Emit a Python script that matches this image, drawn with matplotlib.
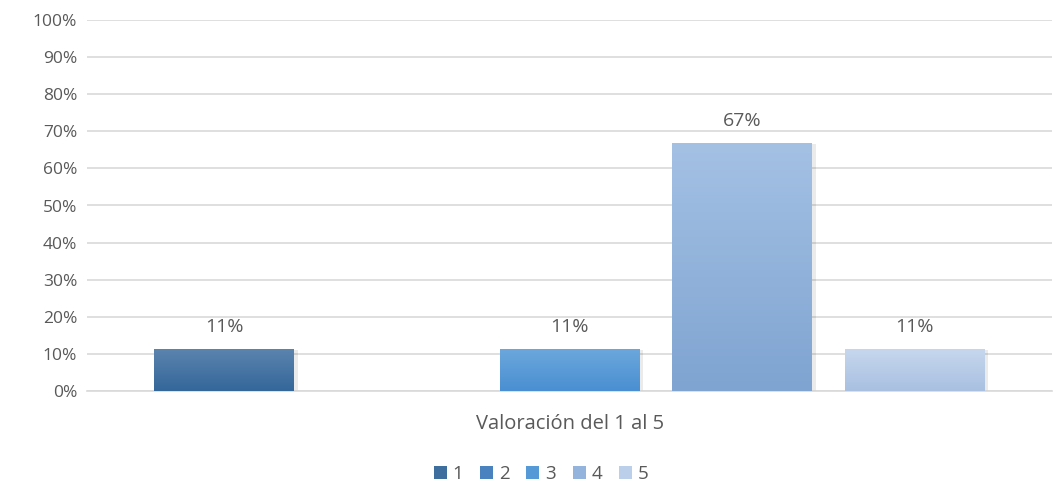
import numpy as np
import matplotlib
matplotlib.use('Agg')
import matplotlib.pyplot as plt
from matplotlib.patches import Patch
from matplotlib.colors import LinearSegmentedColormap

plt.rcParams['font.family'] = ['Open Sans', 'DejaVu Sans']

# Data
series = ['1', '2', '3', '4', '5']
values = [0.111, 0.0, 0.111, 0.667, 0.111]
category = 'Valoración del 1 al 5'
yticks = np.arange(0, 1.01, 0.1)

# (top, bottom) gradient colours per series
grad = [('#5b83ae', '#34679a'),
        ('#5a8dc4', '#3d78b6'),
        ('#6ba7dc', '#4a8fd2'),
        ('#a4c1e4', '#7fa4d1'),
        ('#c6d7ed', '#a9c0e1')]
legend_cols = ['#3e6e9e', '#4a82c0', '#5599d6', '#94b4de', '#bccfea']
TXT = '#595959'
GRID = '#d9d9d9'

fig = plt.figure(figsize=(10.55, 4.86), dpi=100)
ax = fig.add_axes([87 / 1055, 95 / 486, 965 / 1055, 371 / 486])

x = np.arange(len(values))
w = 0.81
for i, (v, (c_top, c_bot)) in enumerate(zip(values, grad)):
    if v <= 0:
        continue
    # soft shadow
    ax.bar(x[i] + 0.02, v, width=w, color='#000000', alpha=0.08, zorder=2)
    cmap = LinearSegmentedColormap.from_list('g', [c_bot, c_top])
    ax.imshow(np.linspace(0, 1, 100).reshape(-1, 1), cmap=cmap, origin='lower',
              extent=[x[i] - w / 2, x[i] + w / 2, 0, v], aspect='auto', zorder=3)
    ax.text(x[i], v + 0.036, f'{v:.0%}', ha='center', va='bottom',
            fontsize=14, color=TXT, zorder=4)

ax.set_xlim(-0.794, 4.794)
ax.set_ylim(0, 1)
ax.set_yticks(yticks)
ax.set_yticklabels([f'{t:.0%}' for t in yticks], fontsize=12.5, color=TXT)
ax.set_xticks([])
ax.yaxis.grid(True, color=GRID, lw=1.2)
ax.set_axisbelow(True)
for s in ['top', 'right', 'left']:
    ax.spines[s].set_visible(False)
ax.spines['bottom'].set_color(GRID)
ax.spines['bottom'].set_linewidth(1.2)
ax.tick_params(axis='y', length=0, pad=7)

fig.text(570 / 1055, 1 - 424 / 486, category, ha='center', va='center',
         fontsize=14.5, color=TXT)

handles = [Patch(facecolor=c, edgecolor='none') for c in legend_cols]
fig.legend(handles, series, loc='center', bbox_to_anchor=(541 / 1055, 1 - 474 / 486),
           ncol=5, frameon=False, fontsize=13.5, handlelength=0.7, handleheight=0.7,
           handletextpad=0.3, columnspacing=0.9, labelcolor=TXT)

fig.savefig('out.png', dpi=100)
plt.close()
